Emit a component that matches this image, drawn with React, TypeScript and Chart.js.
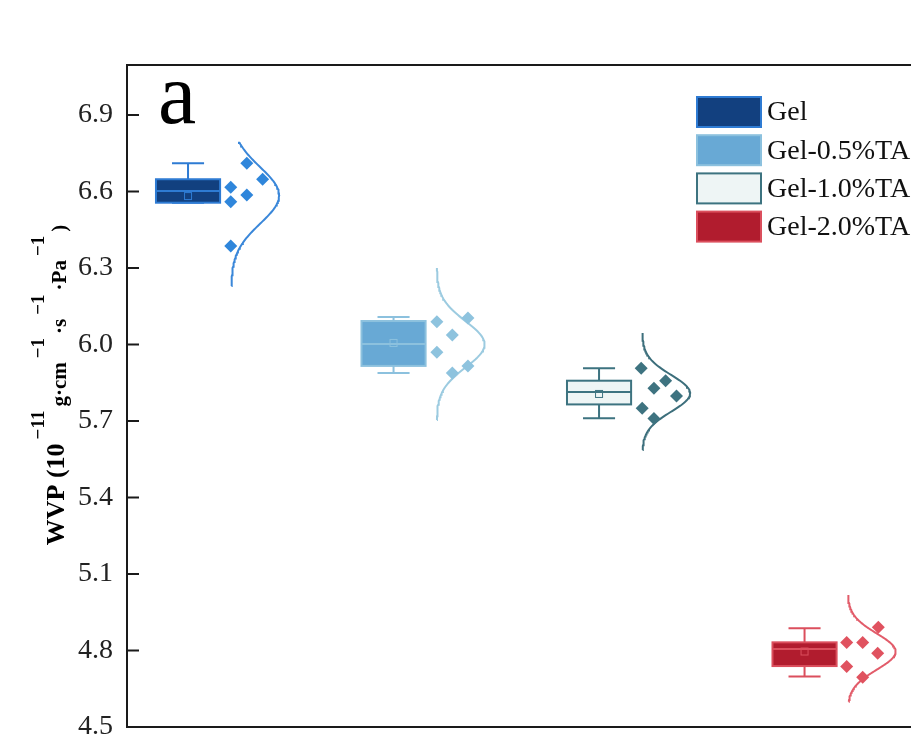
import React, { useEffect, useRef } from 'react';
import { Chart, registerables } from 'chart.js';
Chart.register(...registerables);

const categories = ['Gel', 'Gel-0.5%TA', 'Gel-1.0%TA', 'Gel-2.0%TA'];
const q1 = [6.556, 5.916, 5.765, 4.739];
const medians = [6.602, 6.002, 5.814, 4.806];
const q3 = [6.648, 6.092, 5.858, 4.832];
const whiskerLow = [6.556, 5.888, 5.711, 4.698];
const whiskerHigh = [6.711, 6.108, 5.907, 4.887];
const means = [6.582, 6.006, 5.806, 4.796];
const gelPoints = [6.711, 6.648, 6.617, 6.586, 6.56, 6.386];
const ta05Points = [6.089, 6.037, 5.97, 6.104, 5.916, 5.888];
const ta10Points = [5.907, 5.858, 5.828, 5.798, 5.75, 5.71];
const ta20Points = [4.831, 4.831, 4.891, 4.789, 4.737, 4.695];
const gelJitter = [0.286, 0.363, 0.208, 0.286, 0.208, 0.208];
const ta05Jitter = [0.211, 0.286, 0.211, 0.362, 0.362, 0.286];
const ta10Jitter = [0.205, 0.324, 0.267, 0.377, 0.21, 0.267];
const ta20Jitter = [0.205, 0.283, 0.359, 0.356, 0.205, 0.283];
const curveLow = [6.229, 5.704, 5.586, 4.599];
const curveHigh = [6.795, 6.3, 6.045, 5.018];
const yTicks = [4.5, 4.8, 5.1, 5.4, 5.7, 6.0, 6.3, 6.6, 6.9];
const yTickLabels = ['4.5', '4.8', '5.1', '5.4', '5.7', '6.0', '6.3', '6.6', '6.9'];

const pointSets = [gelPoints, ta05Points, ta10Points, ta20Points];
const jitterSets = [gelJitter, ta05Jitter, ta10Jitter, ta20Jitter];

const boxFill = ['#12407f', '#68a9d5', '#eef5f5', '#b11c2e'];
const boxBorder = ['#2e7bd3', '#8cc1de', '#3d7380', '#db4f5d'];
const pointColors = ['#2f86db', '#8ec3de', '#3e7380', '#e0525f'];
const curveColors = ['#3a87d9', '#9ccbe0', '#3d6f7c', '#e25c6a'];

const SERIF = '"Liberation Serif", "Times New Roman", serif';
const BOX_HALF = 0.156;
const CAP_HALF = 0.078;
const CURVE_BASE = 0.21;
const CURVE_AMP = 0.233;

function stats(arr: number[]) {
  const m = arr.reduce((a, b) => a + b, 0) / arr.length;
  const v = arr.reduce((a, b) => a + (b - m) * (b - m), 0) / (arr.length - 1);
  return { m, sd: Math.sqrt(v) };
}

const boxPlugin = {
  id: 'boxes',
  beforeDatasetsDraw(chart: any) {
    const { ctx, scales } = chart;
    const xs = scales.x, ys = scales.y;
    categories.forEach((_, i) => {
      const c = i + 1;
      const xl = xs.getPixelForValue(c - BOX_HALF);
      const xr = xs.getPixelForValue(c + BOX_HALF);
      const xc = xs.getPixelForValue(c);
      const cl = xs.getPixelForValue(c - CAP_HALF);
      const cr = xs.getPixelForValue(c + CAP_HALF);
      const yq1 = ys.getPixelForValue(q1[i]);
      const yq3 = ys.getPixelForValue(q3[i]);
      const ymed = ys.getPixelForValue(medians[i]);
      const ylo = ys.getPixelForValue(whiskerLow[i]);
      const yhi = ys.getPixelForValue(whiskerHigh[i]);
      const ymean = ys.getPixelForValue(means[i]);
      ctx.save();
      ctx.strokeStyle = boxBorder[i];
      ctx.lineWidth = 2;
      ctx.beginPath();
      ctx.moveTo(xc, yq3); ctx.lineTo(xc, yhi);
      ctx.moveTo(cl, yhi); ctx.lineTo(cr, yhi);
      ctx.moveTo(xc, yq1); ctx.lineTo(xc, ylo);
      ctx.moveTo(cl, ylo); ctx.lineTo(cr, ylo);
      ctx.stroke();
      ctx.fillStyle = boxFill[i];
      ctx.fillRect(xl, yq3, xr - xl, yq1 - yq3);
      ctx.strokeRect(xl, yq3, xr - xl, yq1 - yq3);
      ctx.beginPath();
      ctx.moveTo(xl, ymed); ctx.lineTo(xr, ymed);
      ctx.stroke();
      ctx.lineWidth = 1;
      ctx.strokeRect(xc - 3.5, ymean - 3.5, 7, 7);
      ctx.restore();
    });
  },
};

const framePlugin = {
  id: 'frame',
  afterDraw(chart: any) {
    const { ctx, chartArea, scales } = chart;
    const ys = scales.y;
    ctx.save();
    ctx.strokeStyle = '#1a1a1a';
    ctx.lineWidth = 2;
    ctx.beginPath();
    ctx.moveTo(chartArea.right + 2, chartArea.top);
    ctx.lineTo(chartArea.left, chartArea.top);
    ctx.lineTo(chartArea.left, chartArea.bottom);
    ctx.lineTo(chartArea.right + 2, chartArea.bottom);
    yTicks.forEach((v) => {
      const y = ys.getPixelForValue(v);
      ctx.moveTo(chartArea.left, y);
      ctx.lineTo(chartArea.left + 12, y);
    });
    ctx.stroke();

    // panel letter
    ctx.fillStyle = '#000';
    ctx.font = `86px ${SERIF}`;
    ctx.textAlign = 'left';
    ctx.textBaseline = 'alphabetic';
    ctx.fillText('a', 158, 123);

    // legend
    categories.forEach((name, i) => {
      const top = 97 + i * 38.2;
      ctx.fillStyle = boxFill[i];
      ctx.fillRect(697, top, 64, 30);
      ctx.strokeStyle = boxBorder[i];
      ctx.lineWidth = 2;
      ctx.strokeRect(697, top, 64, 30);
      ctx.fillStyle = '#111';
      ctx.font = `28px ${SERIF}`;
      ctx.textBaseline = 'middle';
      ctx.fillText(name, 767, top + 16);
    });

    // y title with superscripts
    const parts: [string, number][] = [
      ['WVP (10', 0], ['\u221211', 1], ['g\u00b7cm', 2], ['\u22121', 1],
      ['\u00b7s', 2], ['\u22121', 1], ['\u00b7Pa', 2], ['\u22121', 1], [')', 2],
    ];
    const fonts = [`bold 26px ${SERIF}`, `bold 19px ${SERIF}`, `bold 21px ${SERIF}`];
    const GAP = 4;
    let total = 0;
    parts.forEach(([t, s], k) => { ctx.font = fonts[s]; total += ctx.measureText(t).width + (k > 0 ? GAP : 0); });
    ctx.translate(64, 385);
    ctx.rotate(-Math.PI / 2);
    ctx.textBaseline = 'alphabetic';
    ctx.textAlign = 'left';
    ctx.fillStyle = '#000';
    let x = -total / 2;
    parts.forEach(([t, s], k) => {
      ctx.font = fonts[s];
      if (k > 0) x += GAP;
      ctx.fillText(t, x, s === 1 ? -20 : (s === 2 ? 2 : 0));
      x += ctx.measureText(t).width;
    });
    ctx.restore();
  },
};

export default function App() {
  const ref = useRef<HTMLCanvasElement>(null);
  useEffect(() => {
    const canvas = ref.current!;
    const datasets: any[] = [];
    categories.forEach((name, i) => {
      const pts = pointSets[i];
      datasets.push({
        label: name,
        type: 'scatter',
        data: pts.map((v, j) => ({ x: i + 1 + jitterSets[i][j], y: v })),
        pointStyle: 'rectRot',
        pointRadius: 6.5,
        backgroundColor: pointColors[i],
        borderColor: pointColors[i],
        borderWidth: 0,
      });
      const { m, sd } = stats(pts);
      const curve: { x: number; y: number }[] = [];
      const N = 120;
      for (let k = 0; k <= N; k++) {
        const y = curveLow[i] + ((curveHigh[i] - curveLow[i]) * k) / N;
        const d = Math.exp(-((y - m) * (y - m)) / (2 * sd * sd));
        curve.push({ x: i + 1 + CURVE_BASE + CURVE_AMP * d, y });
      }
      datasets.push({
        label: name + ' fit',
        type: 'line',
        data: curve,
        showLine: true,
        pointRadius: 0,
        borderColor: curveColors[i],
        borderWidth: 2,
        fill: false,
        tension: 0,
      });
    });
    const chart = new Chart(canvas, {
      type: 'scatter',
      data: { datasets },
      options: {
        animation: false,
        responsive: false,
        devicePixelRatio: 1,
        layout: { autoPadding: false, padding: { top: 65, bottom: 27, left: 0, right: 0 } },
        plugins: { legend: { display: false }, tooltip: { enabled: false } },
        scales: {
          x: { type: 'linear', min: 0.703, max: 4.518, display: false },
          y: {
            type: 'linear',
            min: 4.5,
            max: 7.096,
            afterBuildTicks: (axis: any) => { axis.ticks = yTicks.map((v) => ({ value: v })); },
            afterFit: (axis: any) => { axis.width = 127; axis.paddingTop = 0; axis.paddingBottom = 0; },
            grid: { display: false, drawTicks: false },
            border: { display: false },
            ticks: {
              padding: 14,
              color: '#222',
              font: { family: '"Liberation Serif", "Times New Roman", serif', size: 28 },
              callback: (v: any) => {
                const idx = yTicks.findIndex((t) => Math.abs(t - v) < 1e-6);
                return idx >= 0 ? yTickLabels[idx] : '';
              },
            },
          },
        },
      },
      plugins: [boxPlugin, framePlugin],
    });
    return () => chart.destroy();
  }, []);
  return (
    <div style={{ position: 'absolute', left: 0, top: 0, width: 911, height: 754, background: '#fff', overflow: 'hidden' }}>
      <canvas ref={ref} width={911} height={754} style={{ display: 'block' }} />
    </div>
  );
}
